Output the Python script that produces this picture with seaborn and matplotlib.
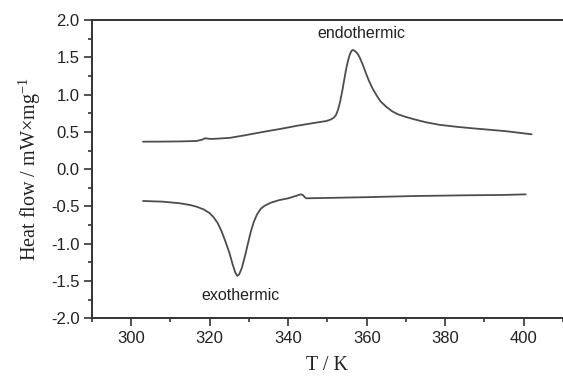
import numpy as np
import pandas as pd
import matplotlib
matplotlib.use("Agg")
import matplotlib.pyplot as plt
import seaborn as sns
from matplotlib.ticker import MultipleLocator

# Upper (endothermic) DSC curve
T_endo = [303.0, 308.0, 312.0, 316.6, 318.0, 318.8, 320.4, 325.1, 329.0, 333.6, 338.0,
          342.0, 346.0, 349.7, 350.8, 351.6, 352.2, 352.7, 353.2, 353.7, 354.2, 354.7,
          355.2, 355.7, 356.1, 356.4, 356.8, 357.4, 358.1, 359.0, 359.8, 360.6, 361.5,
          362.5, 363.5, 364.9, 366.5, 368.0, 370.0, 372.0, 375.0, 378.5, 383.0, 387.0,
          391.0, 395.4, 402.0]
H_endo = [0.369, 0.370, 0.372, 0.378, 0.395, 0.414, 0.405, 0.420, 0.455, 0.500, 0.540,
          0.580, 0.615, 0.646, 0.665, 0.690, 0.730, 0.800, 0.900, 1.030, 1.180, 1.330,
          1.450, 1.540, 1.585, 1.598, 1.592, 1.565, 1.510, 1.400, 1.285, 1.180, 1.080,
          0.990, 0.910, 0.840, 0.775, 0.735, 0.700, 0.670, 0.630, 0.595, 0.568, 0.548,
          0.530, 0.510, 0.468]

# Lower (exothermic) DSC curve
T_exo = [303.0, 308.0, 312.4, 315.0, 316.6, 318.5, 320.0, 321.0, 322.0, 323.0, 324.0,
         325.0, 325.8, 326.5, 327.0, 327.5, 328.2, 329.0, 329.8, 330.5, 331.2, 332.0,
         333.0, 334.0, 335.5, 337.8, 340.0, 341.2, 342.2, 342.8, 343.3, 343.8, 344.2,
         344.6, 350.0, 360.0, 371.7, 385.0, 395.0, 400.5]
H_exo = [-0.426, -0.435, -0.457, -0.480, -0.502, -0.540, -0.590, -0.645, -0.720, -0.830, -0.970,
         -1.120, -1.270, -1.385, -1.430, -1.410, -1.320, -1.160, -0.980, -0.830, -0.710, -0.610,
         -0.530, -0.490, -0.450, -0.413, -0.390, -0.370, -0.355, -0.342, -0.337, -0.350, -0.375,
         -0.390, -0.385, -0.375, -0.360, -0.350, -0.345, -0.337]

x_ticks = [300, 320, 340, 360, 380, 400]
y_ticks = [-2.0, -1.5, -1.0, -0.5, 0.0, 0.5, 1.0, 1.5, 2.0]

df = pd.concat([
    pd.DataFrame({"T": T_endo, "H": H_endo, "curve": "endo"}),
    pd.DataFrame({"T": T_exo, "H": H_exo, "curve": "exo"}),
], ignore_index=True)

sns.set_style("ticks")
plt.rcParams["font.family"] = ["Liberation Sans", "DejaVu Sans"]
plt.rcParams["axes.unicode_minus"] = False

fig = plt.figure(figsize=(5.63, 3.76), dpi=100)
ax = fig.add_axes([0.1634, 0.1532, 0.8366, 0.7936])

sns.lineplot(data=df, x="T", y="H", units="curve", estimator=None, sort=False,
             color="#4d4d4d", lw=1.3, ax=ax)

ax.set_xlim(290, 410)
ax.set_ylim(-2.0, 2.0)
ax.set_xticks(x_ticks)
ax.set_yticks(y_ticks)
ax.set_yticklabels([f"{v:.1f}" for v in y_ticks])
ax.xaxis.set_minor_locator(MultipleLocator(10))
ax.yaxis.set_minor_locator(MultipleLocator(0.25))
ax.tick_params(which="major", direction="out", length=5.5, width=1.2, colors="#333333",
               labelsize=12, labelcolor="#222222")
ax.tick_params(which="minor", direction="out", length=3, width=1.2, colors="#333333")

for s in ["left", "bottom", "top"]:
    ax.spines[s].set_visible(True)
    ax.spines[s].set_linewidth(1.4)
    ax.spines[s].set_color("#333333")
ax.spines["right"].set_visible(False)

ax.set_xlabel("T / K", family=["Liberation Serif"], fontsize=14.5, color="#222222", labelpad=7)
ax.set_ylabel("Heat flow / mW\u00d7mg$^{\\mathregular{-1}}$", family=["Liberation Serif"],
              fontsize=14.5, color="#222222", labelpad=6)

ax.text(358.6, 1.82, "endothermic", ha="center", va="center", fontsize=11.5, color="#222222")
ax.text(327.8, -1.69, "exothermic", ha="center", va="center", fontsize=11.5, color="#222222")

fig.savefig("out.png", dpi=100)
